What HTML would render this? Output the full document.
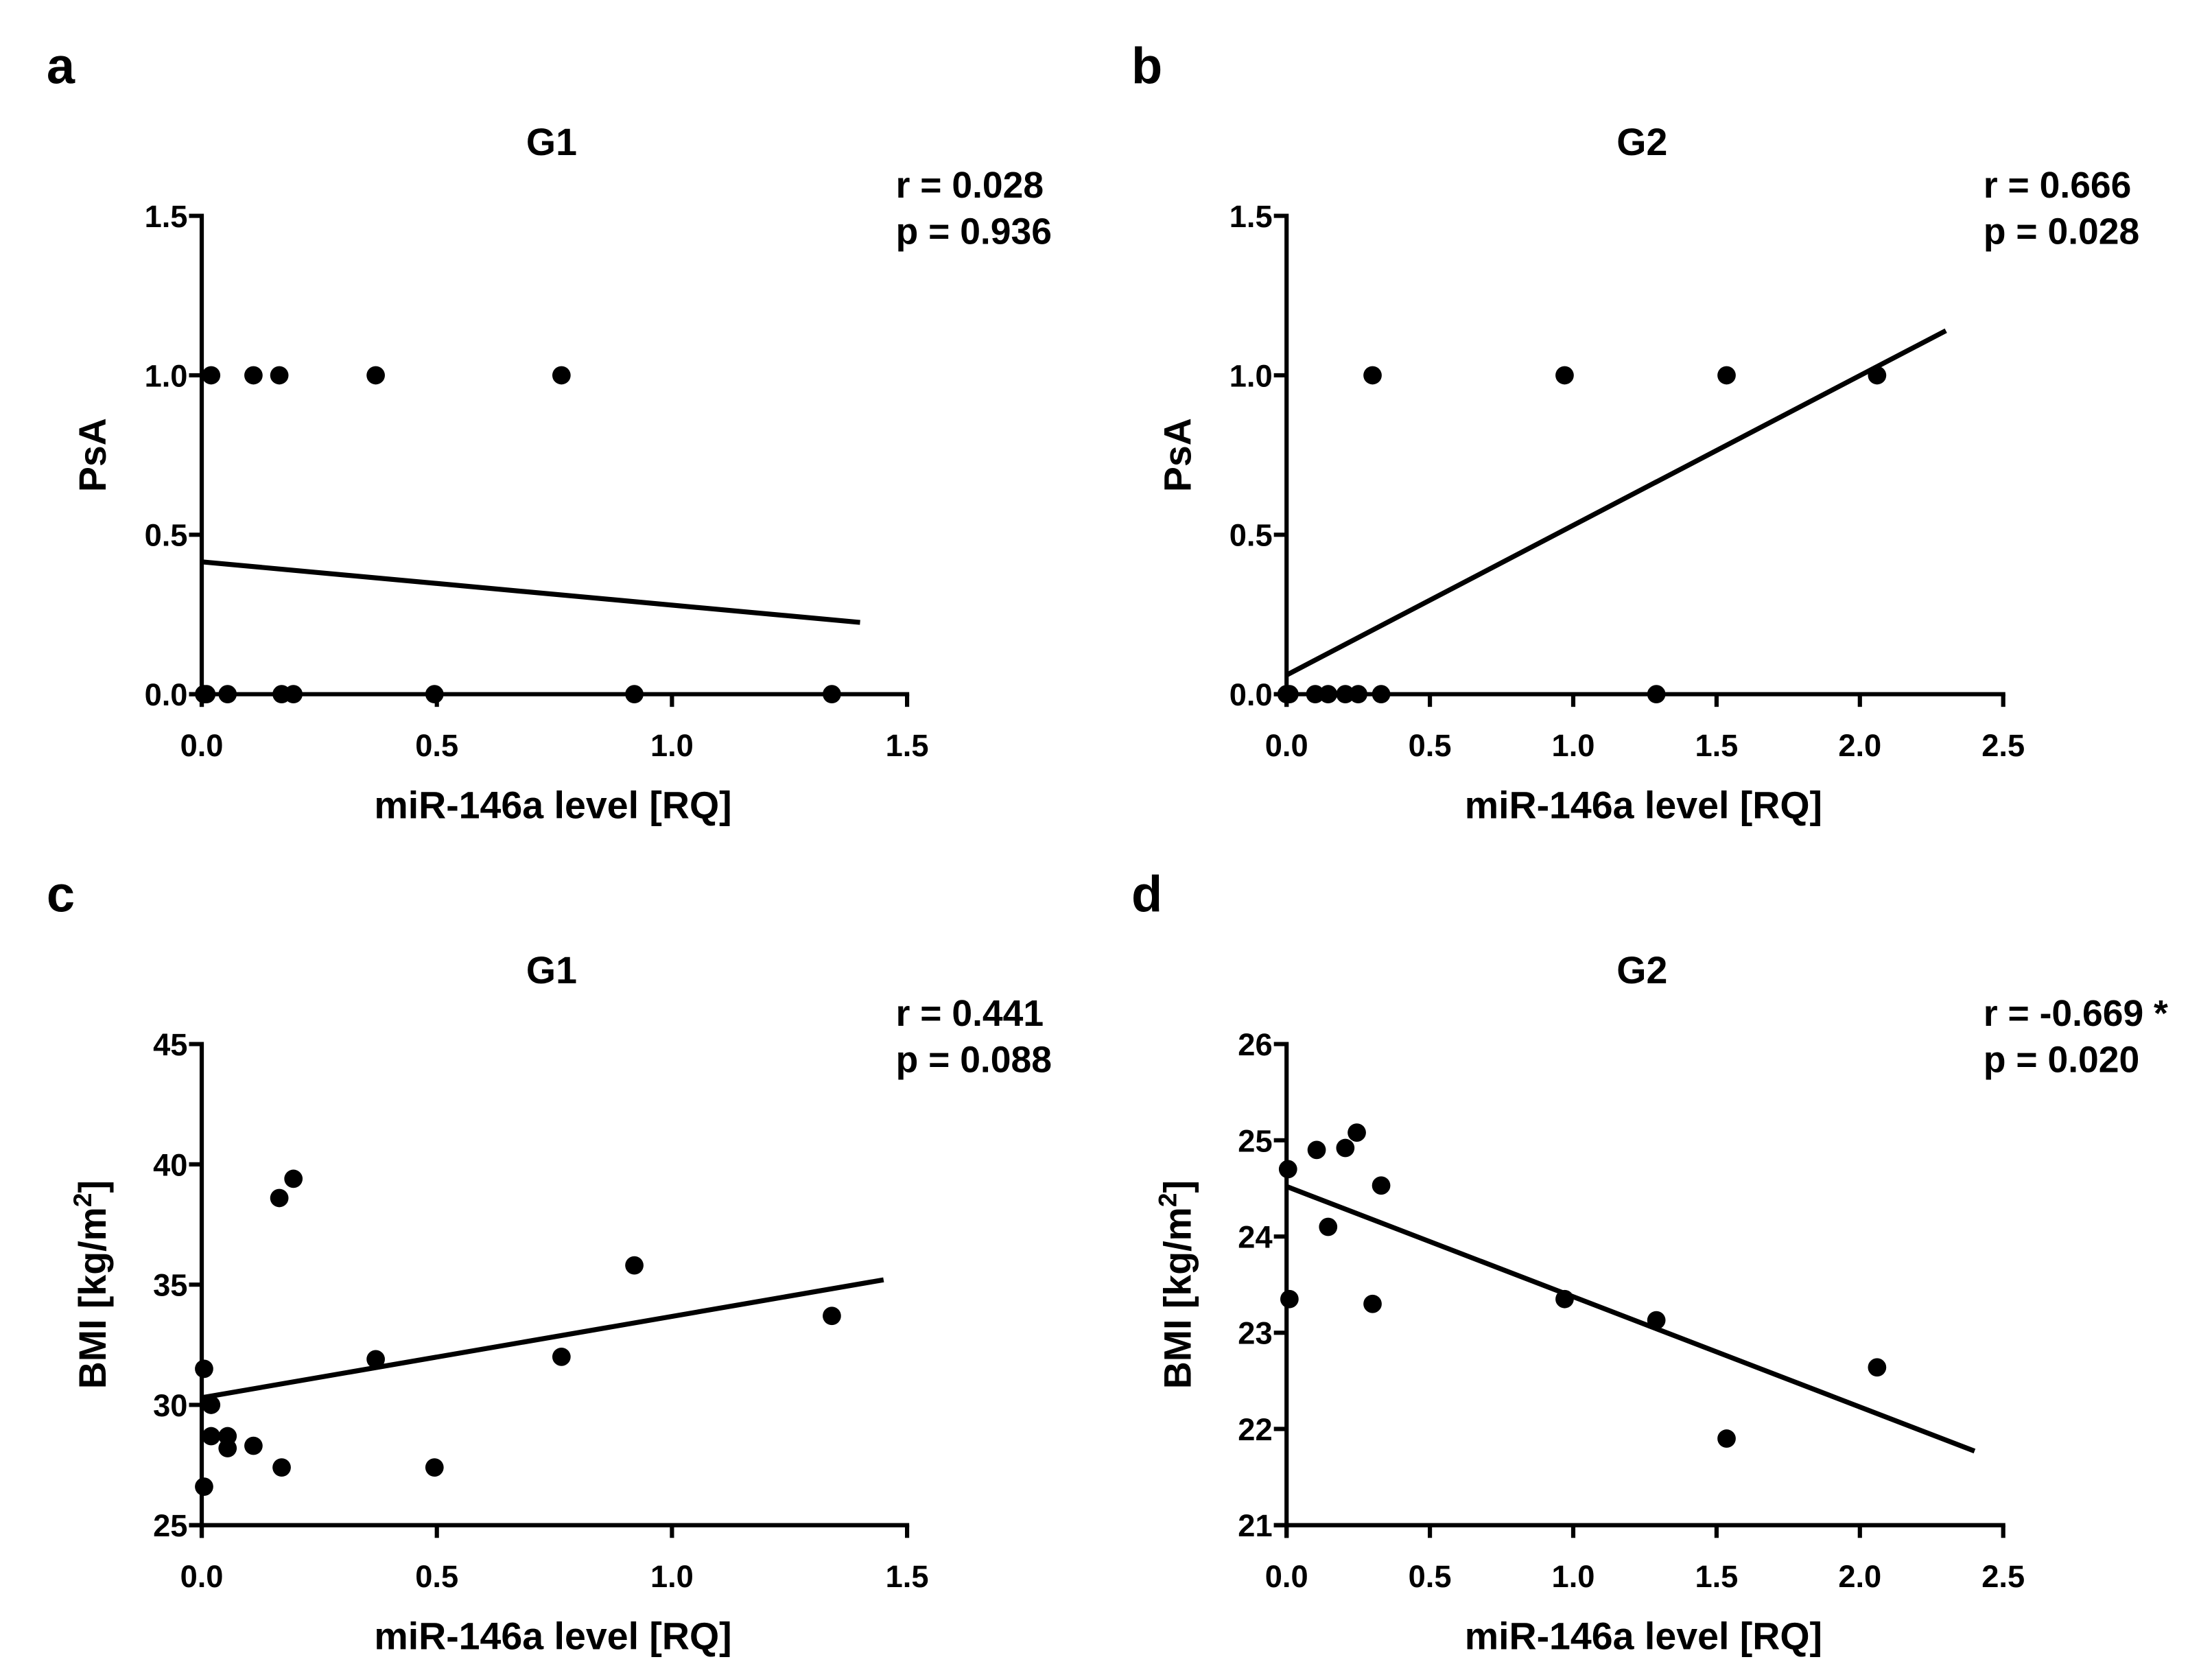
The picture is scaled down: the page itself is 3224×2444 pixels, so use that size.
<!DOCTYPE html>
<html><head><meta charset="utf-8"><style>
html,body{margin:0;padding:0;background:#fff;}
svg{display:block;}
text{font-family:"Liberation Sans",Arial,sans-serif;font-weight:bold;fill:#000;}
</style></head><body>
<svg id="fig" width="3224" height="2444" viewBox="0 0 1568 1188.6" preserveAspectRatio="none" xmlns="http://www.w3.org/2000/svg"></svg>
<script>
// Panel a data
const aX1 = [0.02,0.11,0.165,0.37,0.765];
const aY1 = [1,1,1,1,1];
const aX0 = [0.005,0.01,0.055,0.17,0.195,0.495,0.92,1.34];
const aY0 = [0,0,0,0,0,0,0,0];
const aLineX = [0,1.4];
const aLineY = [0.415,0.225];
// Panel b data
const bX1 = [0.3,0.97,1.535,2.06];
const bY1 = [1,1,1,1];
const bX0 = [0,0.01,0.1,0.145,0.205,0.25,0.33,1.29];
const bY0 = [0,0,0,0,0,0,0,0];
const bLineX = [0,2.3];
const bLineY = [0.06,1.14];
// Panel c data
const cX = [0.005,0.005,0.02,0.02,0.055,0.055,0.11,0.165,0.17,0.195,0.37,0.495,0.765,0.92,1.34];
const cY = [31.5,26.6,28.7,30,28.7,28.2,28.3,38.6,27.4,39.4,31.9,27.4,32,35.8,33.7];
const cLineX = [0,1.45];
const cLineY = [30.3,35.2];
// Panel d data
const dX = [0.005,0.01,0.105,0.145,0.205,0.245,0.3,0.33,0.97,1.29,1.535,2.06];
const dY = [24.7,23.35,24.9,24.1,24.92,25.08,23.3,24.53,23.35,23.13,21.9,22.64];
const dLineX = [0,2.4];
const dLineY = [24.52,21.77];
// Tick labels
const xTicks15 = ["0.0","0.5","1.0","1.5"];
const xTicks25 = ["0.0","0.5","1.0","1.5","2.0","2.5"];
const yTicksPsA = ["0.0","0.5","1.0","1.5"];
const yTicksBMI1 = ["25","30","35","40","45"];
const yTicksBMI2 = ["21","22","23","24","25","26"];

const NS="http://www.w3.org/2000/svg";
const svg=document.getElementById('fig');
function mk(tag,attrs,parent){const e=document.createElementNS(NS,tag);for(const k in attrs)e.setAttribute(k,attrs[k]);(parent||svg).appendChild(e);return e;}

function panel(p){
  const g=mk('g',{});
  
  
  const x0=p.left, x1=p.left+p.w, yb=p.top+p.h, yt=p.top;
  const sx=v=>x0+(v-p.xmin)/(p.xmax-p.xmin)*p.w;
  const sy=v=>yb-(v-p.ymin)/(p.ymax-p.ymin)*p.h;
  const L=mk('text',{x:p.left-110,y:p.top-94,'font-size':36},g);L.textContent=p.letter;
  
  
  const T=mk('text',{x:x0+p.w/2-2,y:p.top-43,'font-size':27,'text-anchor':'middle'},g);T.textContent=p.title;
  
  
  const s1=mk('text',{x:p.statX,y:p.top-13,'font-size':26},g);s1.textContent=p.r;
  
  
  const s2=mk('text',{x:p.statX,y:p.top+20,'font-size':26},g);s2.textContent=p.p;
  
  
  const ya=mk('line',{x1:x0,y1:yt-1.5,x2:x0,y2:yb+9,stroke:'#000','stroke-width':3},g);
  
  
  const xa=mk('line',{x1:x0-9,y1:yb,x2:x1+1.5,y2:yb,stroke:'#000','stroke-width':3},g);
  
  
  p.xt.forEach(t=>{const v=parseFloat(t);const X=sx(v);
    mk('line',{x1:X,y1:yb,x2:X,y2:yb+9,stroke:'#000','stroke-width':3},g);
    const tx=mk('text',{x:X,y:yb+44,'font-size':22,'text-anchor':'middle'},g);tx.textContent=t;
    
    });
  p.yt.forEach(t=>{const v=parseFloat(t);const Y=sy(v);
    mk('line',{x1:x0-9,y1:Y,x2:x0,y2:Y,stroke:'#000','stroke-width':3},g);
    const ty=mk('text',{x:x0-10,y:Y+8,'font-size':22,'text-anchor':'end'},g);ty.textContent=t;
    
    });
  const xl=mk('text',{x:x0+p.w/2-1,y:yb+88,'font-size':27,'text-anchor':'middle'},g);xl.textContent='miR-146a level [RQ]';
  
  
  const yl=mk('text',{x:0,y:0,'font-size':27,'text-anchor':'middle',transform:`translate(${x0-68},${yt+p.h/2}) rotate(-90)`},g);
  if(p.bmi){yl.innerHTML='BMI [kg/m<tspan baseline-shift="super" font-size="18">2</tspan>]';}else yl.textContent=p.ylab;
  
  
  const ln=mk('line',{x1:sx(p.lx[0]),y1:sy(p.ly[0]),x2:sx(p.lx[1]),y2:sy(p.ly[1]),stroke:'#000','stroke-width':3.5},g);
  
  
  p.pts.forEach(([xs,ys])=>xs.forEach((v,i)=>{
    const c=mk('circle',{cx:sx(v),cy:sy(ys[i]),r:6.5,fill:'#000'},g);
    
    
  }));
}
panel({id:'panel-a',letter:'a',title:'G1',r:'r = 0.028',p:'p = 0.936',left:143,top:153,w:500,h:339,xmin:0,xmax:1.5,ymin:0,ymax:1.5,statX:635,xt:xTicks15,yt:yTicksPsA,ylab:'PsA',lx:aLineX,ly:aLineY,pts:[[aX1,aY1],[aX0,aY0]]});
panel({id:'panel-b',letter:'b',title:'G2',r:'r = 0.666',p:'p = 0.028',left:912,top:153,w:508,h:339,xmin:0,xmax:2.5,ymin:0,ymax:1.5,statX:1406,xt:xTicks25,yt:yTicksPsA,ylab:'PsA',lx:bLineX,ly:bLineY,pts:[[bX1,bY1],[bX0,bY0]]});
panel({id:'panel-c',letter:'c',title:'G1',r:'r = 0.441',p:'p = 0.088',left:143,top:740,w:500,h:341,xmin:0,xmax:1.5,ymin:25,ymax:45,statX:635,xt:xTicks15,yt:yTicksBMI1,bmi:true,lx:cLineX,ly:cLineY,pts:[[cX,cY]]});
panel({id:'panel-d',letter:'d',title:'G2',r:'r = -0.669 *',p:'p = 0.020',left:912,top:740,w:508,h:341,xmin:0,xmax:2.5,ymin:21,ymax:26,statX:1406,xt:xTicks25,yt:yTicksBMI2,bmi:true,lx:dLineX,ly:dLineY,pts:[[dX,dY]]});
</script>
</body></html>
